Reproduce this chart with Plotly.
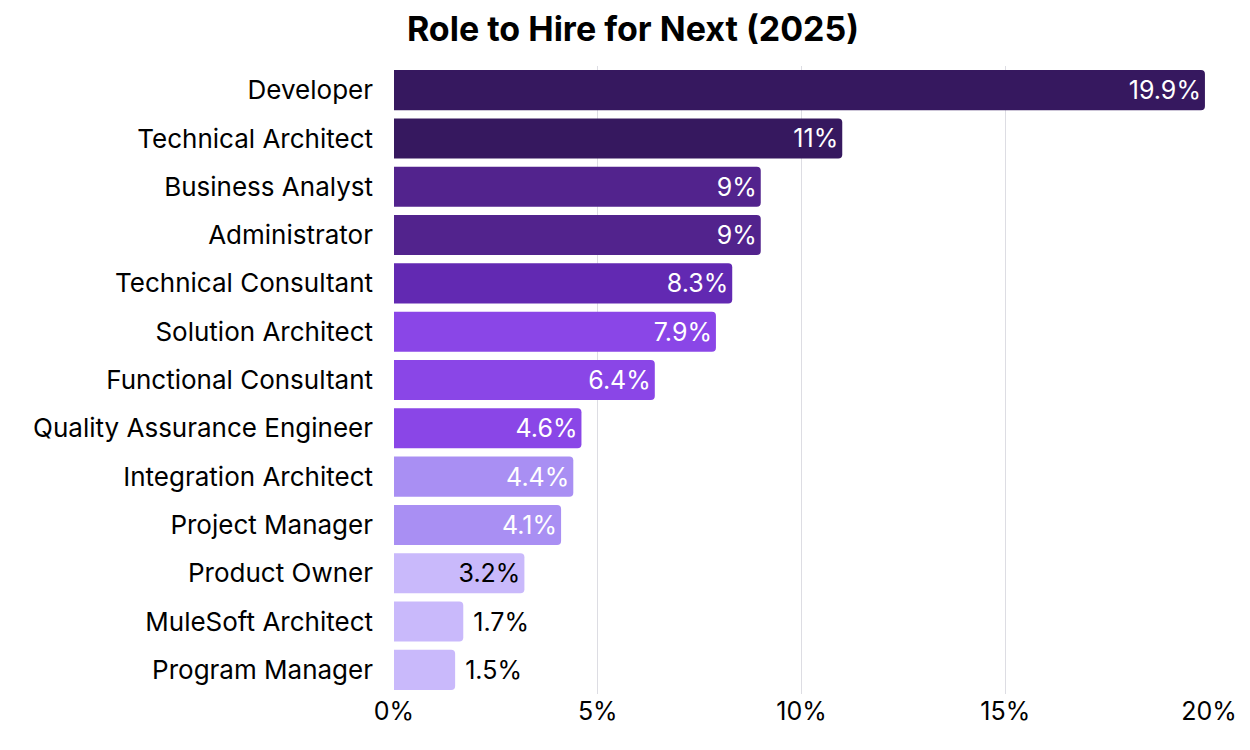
import plotly.graph_objects as go

# Données
roles = [
    "Developer", "Technical Architect", "Business Analyst", "Administrator",
    "Technical Consultant", "Solution Architect", "Functional Consultant",
    "Quality Assurance Engineer", "Integration Architect", "Project Manager",
    "Product Owner", "MuleSoft Architect", "Program Manager",
]
share = [19.9, 11, 9, 9, 8.3, 7.9, 6.4, 4.6, 4.4, 4.1, 3.2, 1.7, 1.5]
tick_vals = [0, 5, 10, 15, 20]
tick_text = ["0%", "5%", "10%", "15%", "20%"]

bar_colors = [
    "#36185f", "#36185f", "#52238d", "#52238d", "#6229b2", "#8a46e7",
    "#8a46e7", "#8a46e7", "#a98ff3", "#a98ff3", "#c9b9fb", "#c9b9fb", "#c9b9fb",
]
text_colors = ["white"] * 10 + ["black"] * 3
text_pos = ["inside"] * 11 + ["outside"] * 2
# un petit espace devant les étiquettes placées hors de la barre
labels = [(" " if p == "outside" else "") + f"{v:g}%" for v, p in zip(share, text_pos)]

fig = go.Figure()
fig.add_trace(go.Bar(
    y=roles, x=share, orientation="h",
    marker=dict(color=bar_colors, cornerradius=4, line=dict(width=0)),
    text=labels,
    textposition=text_pos,
    insidetextanchor="end",
    textfont=dict(color=text_colors, size=25, family="Inter"),
    cliponaxis=False,
    hovertemplate="%{y}: %{x}%<extra></extra>",
))

fig.update_layout(
    title=dict(text="<b>Role to Hire for Next (2025)</b>", x=0.5, xanchor="center",
               y=0.988, yanchor="top", font=dict(size=34, family="Inter", color="black")),
    width=1250, height=750,
    margin=dict(l=386, r=49, t=58, b=64),
    plot_bgcolor="white", paper_bgcolor="white",
    font=dict(family="Inter", color="black", size=25),
    bargap=0.17,
    showlegend=False,
    uniformtext=dict(minsize=10),
)
fig.update_xaxes(range=[0, 20], tickvals=tick_vals, ticktext=tick_text,
                 showgrid=True, gridcolor="#dddde3", gridwidth=1,
                 zeroline=False, tickfont=dict(size=25), ticks="")
fig.update_yaxes(autorange="reversed", tickfont=dict(size=26),
                 ticklabelstandoff=20, showgrid=False, ticks="")

fig.write_html("out.html")
